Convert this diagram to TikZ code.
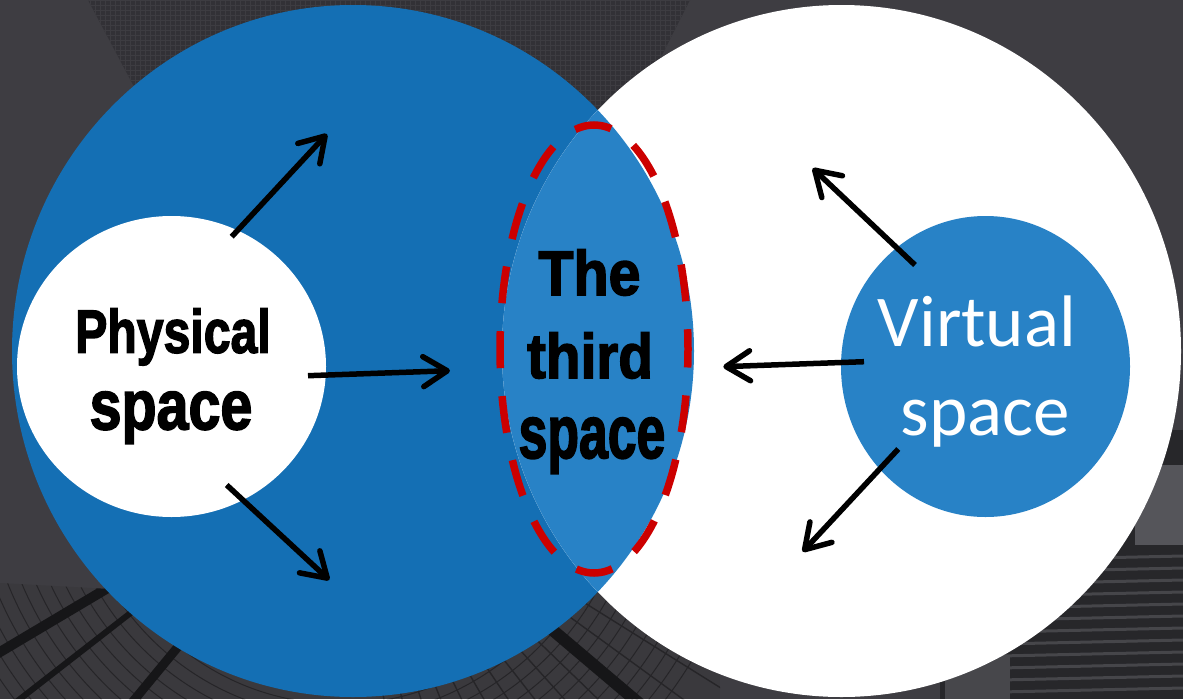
\documentclass[tikz,border=0pt]{standalone}
\usepackage{fontspec}
\usepackage{graphicx}
\usetikzlibrary{arrows.meta,calc}
\newfontfamily\arialf{Liberation Sans}[BoldFeatures={FakeBold=2.5}]
\newfontfamily\calibrif{Carlito}
\definecolor{bgbase}{HTML}{3E3D42}
\definecolor{bgtex}{HTML}{323136}
\definecolor{bgmesh}{HTML}{3D3C41}
\definecolor{floorbase}{HTML}{3A393D}
\definecolor{floorline}{HTML}{262528}
\definecolor{floordark}{HTML}{161618}
\definecolor{bldark}{HTML}{27272A}
\definecolor{blgray}{HTML}{55555A}
\definecolor{blstripe}{HTML}{46464A}
\definecolor{bigblue}{HTML}{146FB4}
\definecolor{lensblue}{HTML}{2882C6}
\definecolor{reddash}{HTML}{CC0000}
\begin{document}
\begin{tikzpicture}[x=1pt,y=-1pt,
  arr/.style={line width=5.5pt,-{Straight Barb[length=24pt,width=30pt,round]}},
  blk/.style={inner sep=0pt,anchor=base,font=\arialf\bfseries,text=black},
  wht/.style={inner sep=0pt,anchor=base,font=\calibrif,text=white},
  redline/.style={draw=reddash,line width=7.5pt,dash pattern=on 37pt off 28pt,dash phase=18.5pt}]
\useasboundingbox (0,0) rectangle (1183,699);
% ---------- background (photo approximation)
\fill[bgbase] (0,0) rectangle (1183,699);
\begin{scope}
  \clip (88,0) -- (690,0) -- (630,118) -- (140,98) -- cycle;
  \fill[bgtex] (0,0) rectangle (700,130);
  \draw[bgmesh,line width=0.8pt,step=5pt] (0,0) grid (700,130);
\end{scope}
\begin{scope}
  \clip (0,583) -- (110,589) -- (300,600) -- (600,590) -- (720,585) -- (720,699) -- (0,699) -- cycle;
  \fill[floorbase] (0,560) rectangle (720,699);
  \coordinate (vp) at (340,450);
  \foreach \r in {150,163,176,189,202,215,228,241,254,267,280,293,306,319,332,345,358,371,384,397,410}
    \draw[floorline,line width=1pt] (vp) circle [radius=\r];
  \foreach \a in {100,104,...,260}
    \draw[floorline,line width=1.4pt] (vp) -- ++(\a:-600);
  \draw[floordark,line width=10pt] (vp) -- ($(vp)!3!(0,652)$);
  \draw[floordark,line width=9pt] (vp) -- ($(vp)!3!(135,699)$);
  \draw[floordark,line width=12pt] (vp) -- ($(vp)!3!(634,699)$);
  \draw[floordark,line width=6pt] (vp) -- ($(vp)!3!(20,699)$);
\end{scope}
\fill[bldark] (940,430) rectangle (1183,699);
\fill[blgray] (1135,465) rectangle (1183,545);
\foreach \yy in {560,572,584,596,608,620,632,644,656,668,680,692}
  \draw[blstripe,line width=3pt] (1000,\yy) -- (1183,\yy-4);
\fill[blgray!70!bldark] (945,655) rectangle (1010,699);
% ---------- big circles
\fill[bigblue] (353,351) ellipse [x radius=341, y radius=346];
\fill[white] (841.5,351) ellipse [x radius=339.5, y radius=346];
\begin{scope}
  \clip (353,351) ellipse [x radius=341, y radius=346];
  \fill[lensblue] (841.5,351) ellipse [x radius=339.5, y radius=346];
\end{scope}
% ---------- small circles
\fill[white] (171.5,366.5) ellipse [x radius=154.5, y radius=150.5];
\fill[lensblue] (985.5,366.5) ellipse [x radius=144.5, y radius=150.5];
% ---------- the third space outline
\draw[redline] (594,349) ellipse [x radius=94, y radius=224];
% ---------- texts
\node[blk] (physA) at (173,352.7) {\scalebox{0.79}[1]{\fontsize{61}{61}\selectfont Physical}};
\node[blk] (physB) at (171,429.3) {\scalebox{0.82}[1]{\fontsize{70}{70}\selectfont space}};
\node[blk] (thirdA) at (589.5,295) {\scalebox{0.91}[1]{\fontsize{63}{63}\selectfont The}};
\node[blk] (thirdB) at (590,378) {\scalebox{0.9}[1]{\fontsize{63}{63}\selectfont third}};
\node[blk] (thirdC) at (592,458) {\scalebox{0.69}[1]{\fontsize{75}{75}\selectfont space}};
\node[wht] (virtA) at (977,346.7) {\fontsize{73}{73}\selectfont Virtual};
\node[wht] (virtB) at (985,435) {\fontsize{73}{73}\selectfont space};
% ---------- arrows
\coordinate (pa1) at (231.7,236.7); \coordinate (pt1) at (327,134);
\coordinate (pa2) at (308,375.7);   \coordinate (pt2) at (450,370.7);
\coordinate (pa3) at (226.7,485);   \coordinate (pt3) at (329.3,580);
\coordinate (va1) at (915,265);     \coordinate (vt1) at (812.7,168.3);
\coordinate (va2) at (864,361.7);   \coordinate (vt2) at (723.3,366.7);
\coordinate (va3) at (898.3,449);   \coordinate (vt3) at (802.7,551.7);
\draw[arr] (pa1) -- (pt1);
\draw[arr] (pa2) -- (pt2);
\draw[arr] (pa3) -- (pt3);
\draw[arr] (va1) -- (vt1);
\draw[arr] (va2) -- (vt2);
\draw[arr] (va3) -- (vt3);
\end{tikzpicture}
\end{document}
